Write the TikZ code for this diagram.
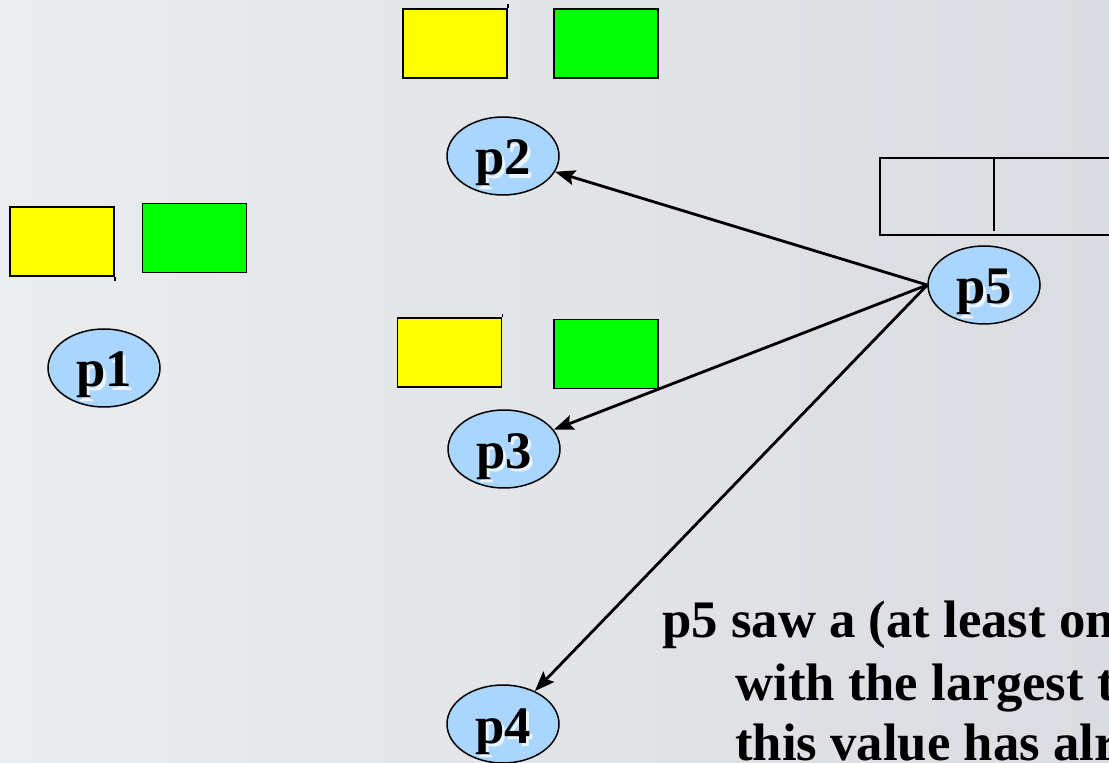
\documentclass[tikz,border=0pt]{standalone}
\usepackage{fontspec}
\setmainfont{Liberation Serif}
\usetikzlibrary{arrows.meta,shapes.geometric}

\definecolor{procblue}{RGB}{170,214,254}
\definecolor{bgleft}{RGB}{235,236,238}
\definecolor{bgright}{RGB}{219,220,225}
\definecolor{tsyellow}{RGB}{255,255,0}
\definecolor{tsgreen}{RGB}{0,255,0}

% bold label with a light offset shadow behind it
\newcommand{\procname}[1]{\makebox[0pt][l]{\hspace{1.8pt}\raisebox{-1.8pt}{\color{white!75!procblue}#1}}#1}

\tikzset{
  proc/.style={draw, ellipse, fill=procblue, line width=0.85pt, minimum width=2.24cm, minimum height=1.56cm, inner sep=0pt, text height=0.76cm, text depth=0cm, font=\fontsize{30}{30}\selectfont\bfseries},
  val/.style={draw, rectangle, line width=1.1pt, minimum width=2.08cm, minimum height=1.38cm, inner sep=0pt},
  msg/.style={-{Stealth[length=0.4cm,width=0.3cm,inset=0.07cm]}, line width=1.6pt},
  note/.style={anchor=base west, inner sep=0pt, font=\fontsize{30}{35}\selectfont\bfseries}
}

\begin{document}
\begin{tikzpicture}
				\useasboundingbox (0,0) rectangle (22.18,15.24);
				\clip (0,0) rectangle (22.18,15.24);
				\shade[left color=bgleft, right color=bgright] (0,0) rectangle (22.18,15.24);

				% timestamp/value pairs held by each process
				\node[val, fill=tsyellow] (Y1)at(1.24, 10.41) {};
				\node[val, fill=tsgreen] (G1)at(3.89, 10.48) {};
				\node[val, fill=tsyellow] (Y2)at(9.10, 14.37) {};
				\node[val, fill=tsgreen] (G2)at(12.12, 14.37) {};
				\node[val, fill=tsyellow] (Y3)at(8.99, 8.19) {};
				\node[val, fill=tsgreen] (G3)at(12.12, 8.16) {};
				\draw[line width=1.1pt] (Y1.south east) -- ++(0,-0.08);
				\draw[line width=1.1pt] (Y2.north east) -- ++(0,0.08);
				\draw[line width=1.1pt] (Y3.north east) -- ++(0,0.06);

				% empty pair of p5
				\draw[line width=1.1pt] (17.6, 10.54) rectangle (22.6, 12.08);
				\draw[line width=1.1pt] (19.88, 12.08) -- (19.88, 10.62);

				\node[proc] (p1)at(2.08, 7.88) {\procname{p1}};
				\node[proc] (p2)at(10.06, 12.12) {\procname{p2}};
				\node[proc] (p3)at(10.08, 6.26) {\procname{p3}};
				\node[proc] (p4)at(10.06, 0.76) {\procname{p4}};
				\node[proc] (p5)at(19.68, 9.54) {\procname{p5}};

				\draw[msg] (p5.west) -- (p2);
				\draw[msg] (p5.west) -- (p3);
				\draw[msg] (p5.west) -- (p4);

				\node[note] (line1)at(13.24, 2.50) {p5 saw a (at least on};
				\node[note] (line2)at(14.70, 1.24) {with the largest t};
				\node[note] (line3)at(14.70, 0.04) {this value has alr};
			\end{tikzpicture}
\end{document}
